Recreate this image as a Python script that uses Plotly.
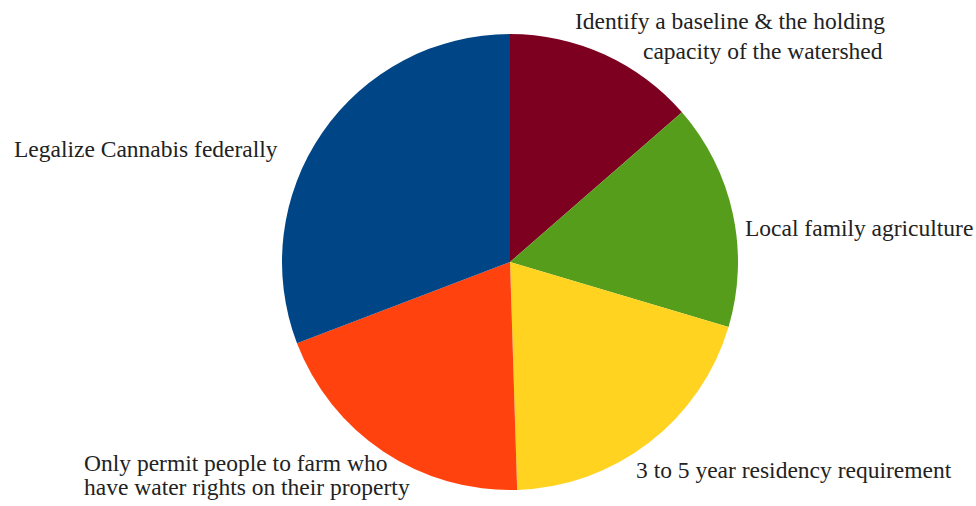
import plotly.graph_objects as go

labels = [
    "Identify a baseline & the holding capacity of the watershed",
    "Local family agriculture",
    "3 to 5 year residency requirement",
    "Only permit people to farm who have water rights on their property",
    "Legalize Cannabis federally",
]
values = [13.6, 16.0, 19.9, 19.7, 30.8]
colors = ["#7e0021", "#579d1c", "#ffd320", "#ff420e", "#004586"]

# label text lines with placement (paper px from top-left)
label_lines = [
    ("Identify a baseline & the holding", 887, 21, "right"),
    ("capacity of the watershed", 885, 51, "right"),
    ("Legalize Cannabis federally", 12, 149, "left"),
    ("Local family agriculture", 743, 228, "left"),
    ("3 to 5 year residency requirement", 634, 470, "left"),
    ("Only permit people to farm who", 82, 463, "left"),
    ("have water rights on their property", 82, 486.5, "left"),
]

W, H = 976, 506
cx, cy, r = 510, 262, 228

fig = go.Figure(go.Pie(
    labels=labels,
    values=values,
    marker=dict(colors=colors, line=dict(width=0)),
    sort=False,
    direction="clockwise",
    rotation=0,
    textinfo="none",
    hoverinfo="label+percent",
    showlegend=False,
    domain=dict(x=[(cx - r) / W, (cx + r) / W],
                y=[(H - cy - r) / H, (H - cy + r) / H]),
))

for text, x, y, align in label_lines:
    fig.add_annotation(
        text=text, x=x / W, y=1 - y / H, xref="paper", yref="paper",
        xanchor=align, yanchor="middle", showarrow=False,
        font=dict(family="'Liberation Serif', 'Times New Roman', serif",
                  size=23.5, color="#222222"),
    )

fig.update_layout(
    width=W, height=H,
    margin=dict(l=0, r=0, t=0, b=0),
    paper_bgcolor="white",
    plot_bgcolor="white",
)

fig.write_html("out.html")
